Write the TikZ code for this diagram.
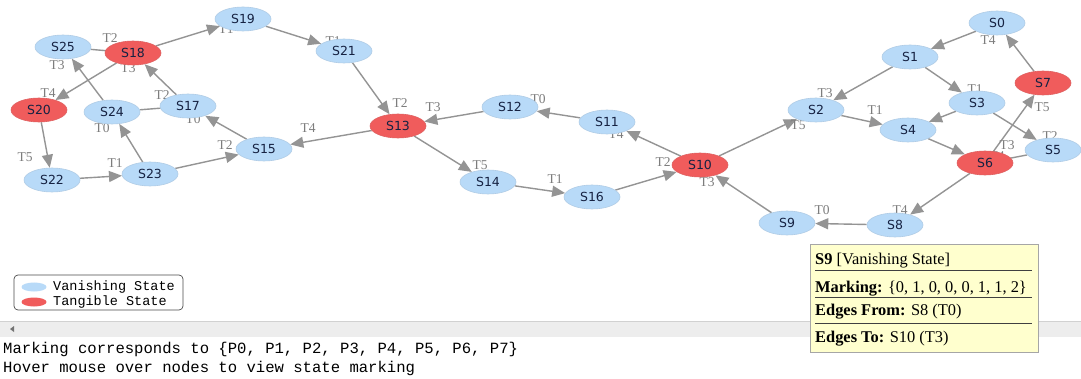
\documentclass[tikz,border=0pt]{standalone}
\usepackage{fontspec}
\setmainfont{Liberation Serif}
\setmonofont{Liberation Mono}
\newfontfamily\statefont{DejaVu Sans}
\usetikzlibrary{arrows.meta,shapes.geometric}
\pgfdeclarelayer{paper}
\pgfdeclarelayer{bg}
\pgfsetlayers{paper,bg,main}
\definecolor{vanish}{RGB}{184,218,248}
\definecolor{tangible}{RGB}{240,92,92}
\definecolor{edgegray}{RGB}{148,148,148}
\definecolor{lblgray}{RGB}{125,125,125}
\definecolor{tipyellow}{RGB}{255,255,206}
\definecolor{statetext}{RGB}{22,34,66}
\tikzset{
  state/.style={ellipse, minimum width=56pt, minimum height=24pt, inner sep=0pt,
    font=\statefont\fontsize{12.5}{12.5}\selectfont, text=statetext},
  vstate/.style={state, fill=vanish, draw=vanish!85!gray, line width=0.6pt},
  tstate/.style={state, fill=tangible, draw=tangible!85!gray, line width=0.6pt},
  arc/.style={draw=edgegray, line width=1.4pt, -{Triangle[length=13pt,width=11pt]}},
  plainarc/.style={draw=edgegray, line width=1.4pt},
  lbl/.style={text=lblgray, font=\fontsize{13.5}{13.5}\selectfont, inner sep=0pt},
  tiptext/.style={anchor=base west, inner sep=0pt, font=\fontsize{16.4}{16.4}\selectfont},
  consoletext/.style={anchor=base west, inner sep=0pt, font=\ttfamily\fontsize{15.6}{15.6}\selectfont},
  legendtext/.style={anchor=west, inner sep=0pt, font=\ttfamily\fontsize{13.5}{13.5}\selectfont},
}
\begin{document}
\begin{tikzpicture}[x=1pt, y=-1pt]
\useasboundingbox (0,0) rectangle (1081,379);
\begin{pgfonlayer}{paper}
\fill[white] (0,0) rectangle (1081,379);
\end{pgfonlayer}

% reachability graph states
\node[vstate] (S0)  at (997,23)  {S0};
\node[vstate] (S1)  at (910,57)  {S1};
\node[vstate] (S2)  at (816,110) {S2};
\node[vstate] (S3)  at (977,103) {S3};
\node[vstate] (S4)  at (908,130) {S4};
\node[vstate] (S5)  at (1053,150) {S5};
\node[tstate] (S6)  at (985,163) {S6};
\node[tstate] (S7)  at (1043,83) {S7};
\node[vstate] (S8)  at (895,225) {S8};
\node[vstate] (S9)  at (787,223) {S9};
\node[tstate] (S10) at (700,165) {S10};
\node[vstate] (S11) at (607,122) {S11};
\node[vstate] (S12) at (510,107) {S12};
\node[tstate] (S13) at (398,126) {S13};
\node[vstate] (S14) at (488,182) {S14};
\node[vstate] (S15) at (264,149) {S15};
\node[vstate] (S16) at (592,197) {S16};
\node[vstate] (S17) at (188,106) {S17};
\node[tstate] (S18) at (133,53)  {S18};
\node[vstate] (S19) at (243,19)  {S19};
\node[tstate] (S20) at (39,110)  {S20};
\node[vstate] (S21) at (344,51)  {S21};
\node[vstate] (S22) at (52,180)  {S22};
\node[vstate] (S23) at (150,174) {S23};
\node[vstate] (S24) at (112,112) {S24};
\node[vstate] (S25) at (63,47)   {S25};

\begin{pgfonlayer}{bg}
% transitions between states
\draw[arc] (S0) -- (S1);
\draw[arc] (S7) -- (S0);
\draw[arc] (S1) -- (S2);
\draw[arc] (S1) -- (S3);
\draw[arc] (S2) -- (S4);
\draw[arc] (S3) -- (S4);
\draw[arc] (S3) -- (S5);
\draw[arc] (S4) -- (S6);
\draw[plainarc] (S5) -- (S6.center);
\draw[arc] (S6) -- (S7);
\draw[arc] (S6) -- (S8);
\draw[arc] (S8) -- (S9);
\draw[arc] (S9) -- (S10);
\draw[arc] (S10) -- (S2);
\draw[arc] (S10) -- (S11);
\draw[arc] (S11) -- (S12);
\draw[arc] (S12) -- (S13);
\draw[arc] (S16) -- (S10);
\draw[arc] (S14) -- (S16);
\draw[arc] (S13) -- (S14);
\draw[arc] (S13) -- (S15);
\draw[arc] (S21) -- (S13);
\draw[arc] (S19) -- (S21);
\draw[arc] (S18) -- (S19);
\draw[arc] (S18) -- (S20);
\draw[plainarc] (S25) -- (S18.center);
\draw[arc] (S24) -- (S25);
\draw[arc] (S17) -- (S18);
\draw[plainarc] (S24) -- (S17.center);
\draw[arc] (S15) -- (S17);
\draw[arc] (S23) -- (S24);
\draw[arc] (S23) -- (S15);
\draw[arc] (S22) -- (S23);
\draw[arc] (S20) -- (S22);

% transition labels
\node[lbl] (l7-0)   at (988,40)  {T4};
\node[lbl] (l1-2)   at (825,93)  {T3};
\node[lbl] (l1-3)   at (975,89)  {T1};
\node[lbl] (l2-4)   at (875,110) {T1};
\node[lbl] (l3-5)   at (1050,136) {T2};
\node[lbl] (l5-6)   at (1007,145) {T3};
\node[lbl] (l4-6)   at (997,156) {T4};
\node[lbl] (l6-7)   at (1042,107) {T5};
\node[lbl] (l6-8)   at (900,210) {T4};
\node[lbl] (l8-9)   at (822,210) {T0};
\node[lbl] (l9-10)  at (707,182) {T3};
\node[lbl] (l10-2)  at (798,125) {T5};
\node[lbl] (l10-11) at (616,134) {T4};
\node[lbl] (l16-10) at (663,162) {T2};
\node[lbl] (l14-16) at (555,179) {T1};
\node[lbl] (l11-12) at (538,99)  {T0};
\node[lbl] (l12-13) at (433,107) {T3};
\node[lbl] (l21-13) at (400,103) {T2};
\node[lbl] (l13-14) at (480,165) {T5};
\node[lbl] (l13-15) at (308,128) {T4};
\node[lbl] (l19-21) at (333,41)  {T1};
\node[lbl] (l18-19) at (226,29)  {T1};
\node[lbl] (l25-18) at (110,38)  {T2};
\node[lbl] (l24-25) at (57,65)   {T3};
\node[lbl] (l17-18) at (128,68)  {T3};
\node[lbl] (l18-20) at (48,93)   {T4};
\node[lbl] (l24-17) at (162,95)  {T2};
\node[lbl] (l15-17) at (193,119) {T0};
\node[lbl] (l23-24) at (102,128) {T0};
\node[lbl] (l20-22) at (25,157)  {T5};
\node[lbl] (l22-23) at (115,163) {T1};
\node[lbl] (l23-15) at (225,145) {T2};
\end{pgfonlayer}

% legend
\draw[draw=black!70, line width=0.7pt, rounded corners=4pt] (14,275) rectangle (183,310);
\node[ellipse, fill=vanish, minimum width=25pt, minimum height=9pt, inner sep=0pt] (legV) at (34,287) {};
\node[ellipse, fill=tangible, minimum width=25pt, minimum height=9pt, inner sep=0pt] (legT) at (34,302) {};
\node[legendtext] (legVt) at (53,287) {Vanishing State};
\node[legendtext] (legTt) at (53,302) {Tangible State};

% horizontal scroll bar
\fill[black!7] (0,321) rectangle (1081,337);
\draw[black!18, line width=0.6pt] (0,321) -- (1081,321);
\fill[black!55] (10,329) -- (14,326) -- (14,332) -- cycle;

% hover tooltip
\draw[fill=tipyellow, draw=black!35, line width=0.8pt] (810,244) rectangle (1038,352);
\draw[black!75, line width=0.8pt] (815,270) -- (1032,270);
\draw[black!75, line width=0.8pt] (815,297) -- (1032,297);
\draw[black!75, line width=0.8pt] (815,323) -- (1032,323);
\node[tiptext] (tip1) at (815,265) {\textbf{S9} [Vanishing State]};
\node[tiptext] (tip2) at (815,292) {\textbf{Marking:} \{0, 1, 0, 0, 0, 1, 1, 2\}};
\node[tiptext] (tip3) at (815,316) {\textbf{Edges From:} S8 (T0)};
\node[tiptext] (tip4) at (815,342) {\textbf{Edges To:} S10 (T3)};

% console output
\node[consoletext] (out1) at (3,353.5) {Marking corresponds to \{P0, P1, P2, P3, P4, P5, P6, P7\}};
\node[consoletext] (out2) at (3,372.5) {Hover mouse over nodes to view state marking};
\end{tikzpicture}
\end{document}
